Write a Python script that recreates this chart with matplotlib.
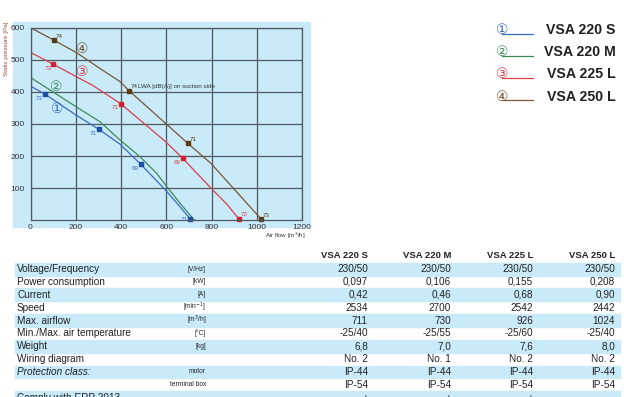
import matplotlib
matplotlib.use('Agg')
import matplotlib.pyplot as plt
from matplotlib.patches import Rectangle
from matplotlib.transforms import Affine2D

# fan curves: airflow [m3/h] vs static pressure [Pa]
flow_s = [0, 64, 201, 303, 396, 488, 597, 661, 706, 711]
pres_s = [418, 393, 328, 283, 237, 174, 94, 42, 4, 0]
flow_m = [0, 201, 307, 396, 484, 558, 597, 661, 723, 730]
pres_m = [445, 354, 307, 250, 198, 146, 110, 53, 1, 0]
flow_225 = [0, 101, 204, 278, 399, 597, 673, 798, 867, 920, 926]
pres_225 = [523, 486, 447, 419, 363, 245, 193, 100, 51, 5, 0]
flow_250 = [0, 104, 204, 307, 396, 435, 597, 695, 798, 904, 1019, 1024]
pres_250 = [600, 561, 522, 473, 432, 404, 302, 240, 177, 94, 4, 0]

# noise points LWA [dB(A)]
pts_s_x = [64, 303, 488, 706]
pts_s_y = [393, 283, 174, 4]
pts_s_db = ['73', '71', '69', '71']
pts_225_x = [101, 399, 673, 920]
pts_225_y = [486, 363, 193, 5]
pts_225_db = ['73', '71', '69', '72']
pts_250_x = [104, 435, 695, 1019]
pts_250_y = [561, 404, 240, 4]
pts_250_db = ['74', '74', '71', '73']

models = ['VSA 220 S', 'VSA 220 M', 'VSA 225 L', 'VSA 250 L']
row_labels = ['Voltage/Frequency', 'Power consumption', 'Current', 'Speed', 'Max. airflow',
              'Min./Max. air temperature', 'Weight', 'Wiring diagram', 'Protection class:', '',
              'Comply with ERP 2013']
row_units = ['[V/Hz]', '[kW]', '[A]', '[min$^{-1}$]', '[m$^3$/h]', '[°C]', '[kg]', '', 'motor',
             'terminal box', '']
vals_220s = ['230/50', '0,097', '0,42', '2534', '711', '-25/40', '6,8', 'No. 2', 'IP-44', 'IP-54', '+']
vals_220m = ['230/50', '0,106', '0,46', '2700', '730', '-25/55', '7,0', 'No. 1', 'IP-44', 'IP-54', '+']
vals_225l = ['230/50', '0,155', '0,68', '2542', '926', '-25/60', '7,6', 'No. 2', 'IP-44', 'IP-54', '+']
vals_250l = ['230/50', '0,208', '0,90', '2442', '1024', '-25/40', '8,0', 'No. 2', 'IP-44', 'IP-54', '-']

W, H = 624, 397
BG = '#c8eaf9'
TXT = '#222222'
c_blue, c_green, c_red, c_brown = '#3b6cc0', '#3d8b5a', '#d9404a', '#7b5634'
SANS = ['Liberation Sans', 'DejaVu Sans']
CIRC = ['DejaVu Sans', 'Noto Sans CJK SC']

fig = plt.figure(figsize=(W / 100, H / 100), dpi=100)
# pixel coordinates, origin top-left
px = Affine2D().scale(1 / W, -1 / H).translate(0, 1) + fig.transFigure

fig.patches.append(Rectangle((13, 22), 297, 205, transform=px, color=BG, zorder=-2))

ax = fig.add_axes([30.5 / W, 1 - 220.3 / H, 271.5 / W, 192.6 / H])
ax.set_facecolor(BG)
ax.set_xlim(0, 1200)
ax.set_ylim(0, 600)
ax.set_xticks(range(0, 1201, 200))
ax.set_yticks(range(100, 601, 100))
ax.grid(True, color='#505a60', linewidth=0.9)
ax.set_axisbelow(True)
for s in ax.spines.values():
    s.set_color('#505a60')
    s.set_linewidth(0.9)
ax.tick_params(length=0, labelsize=6, labelcolor='#333333', pad=4)
ax.tick_params(axis='x', pad=2.5)
for lab in ax.get_xticklabels() + ax.get_yticklabels():
    lab.set_family(SANS)

ax.plot(flow_s, pres_s, color=c_blue, lw=0.9)
ax.plot(flow_m, pres_m, color=c_green, lw=0.9)
ax.plot(flow_225, pres_225, color=c_red, lw=0.9)
ax.plot(flow_250, pres_250, color=c_brown, lw=0.9)

ax.plot(pts_s_x, pts_s_y, 's', color='#1f4fa8', ms=2.6, ls='none', clip_on=False)
ax.plot(pts_225_x, pts_225_y, 's', color='#d0202f', ms=2.6, ls='none', clip_on=False)
ax.plot(pts_250_x, pts_250_y, 's', color='#5b3a12', ms=2.6, ls='none', clip_on=False)

for i, (x, y, t) in enumerate(zip(pts_s_x, pts_s_y, pts_s_db)):
    if i == 3:
        ax.annotate(t, (x, y), xytext=(-2, 0), textcoords='offset points', ha='right', va='center',
                    fontsize=4.5, color=c_blue, family=SANS)
    else:
        ax.annotate(t, (x, y), xytext=(-1.5, -1), textcoords='offset points', ha='right', va='top',
                    fontsize=4.5, color=c_blue, family=SANS)
for i, (x, y, t) in enumerate(zip(pts_225_x, pts_225_y, pts_225_db)):
    if i == 3:
        ax.annotate(t, (x, y), xytext=(1.5, 1), textcoords='offset points', ha='left', va='bottom',
                    fontsize=4.5, color=c_red, family=SANS)
    else:
        ax.annotate(t, (x, y), xytext=(-1.5, -1), textcoords='offset points', ha='right', va='top',
                    fontsize=4.5, color=c_red, family=SANS)
for x, y, t in zip(pts_250_x, pts_250_y, pts_250_db):
    ax.annotate(t, (x, y), xytext=(1.5, 1), textcoords='offset points', ha='left', va='bottom',
                fontsize=4.5, color='#5b3a12', family=SANS)

ax.text(475, 418, 'LWA [dB(A)] on suction side', fontsize=4.5, color='#333333', family=SANS,
        va='center')

# circled curve numbers
for t, x, y, c in [('①', 118, 346, c_blue), ('②', 115, 414, c_green),
                   ('③', 229, 462, c_red), ('④', 230, 533, c_brown)]:
    ax.text(x, y, t, fontsize=10, color=c, family=CIRC, ha='center', va='center')

fig.text(7, 22, 'Static pressure [Pa]', transform=px, rotation=90, fontsize=4.5,
         color='#9a4a3a', ha='center', va='top', family=SANS)
fig.text(306, 236, 'Air flow [m$^3$/h]', transform=px, fontsize=4.5, color='#333333',
         ha='right', va='center', family=SANS)

# legend on the right
for i, (m, c, t) in enumerate(zip(models, [c_blue, c_green, c_red, c_brown], '①②③④')):
    y = 30 + 22.2 * i
    fig.text(502, y, t, transform=px, fontsize=10, color=c, family=CIRC, ha='center', va='center')
    fig.add_artist(plt.Line2D([502, 533], [y + 3.8, y + 3.8], transform=px, color=c, lw=0.9))
    fig.text(616, y, m, transform=px, fontsize=10.2, fontweight='bold', color=TXT,
             ha='right', va='center', family=SANS)

# spec table
col_right = [368, 451, 533, 615]
for m, x in zip(models, col_right):
    fig.text(x, 255, m, transform=px, fontsize=6.8, fontweight='bold', color=TXT,
             ha='right', va='center', family=SANS)

row_h = 12.85
for i, lab in enumerate(row_labels):
    top = 262.7 + row_h * i
    yc = top + row_h / 2
    if i % 2 == 0:
        fig.patches.append(Rectangle((15, top), 605, row_h, transform=px, color=BG, zorder=-2))
    fig.text(17, yc, lab, transform=px, fontsize=7.2, color=TXT, ha='left', va='center',
             family=SANS, style='italic' if i == 8 else 'normal')
    fig.text(206, yc, row_units[i], transform=px, fontsize=4.8, color=TXT, ha='right',
             va='center', family=SANS)
    for vals, x in zip([vals_220s, vals_220m, vals_225l, vals_250l], col_right):
        fig.text(x, yc, vals[i], transform=px, fontsize=7.2, color=TXT, ha='right',
                 va='center', family=SANS)

fig.savefig('out.png', dpi=100)
